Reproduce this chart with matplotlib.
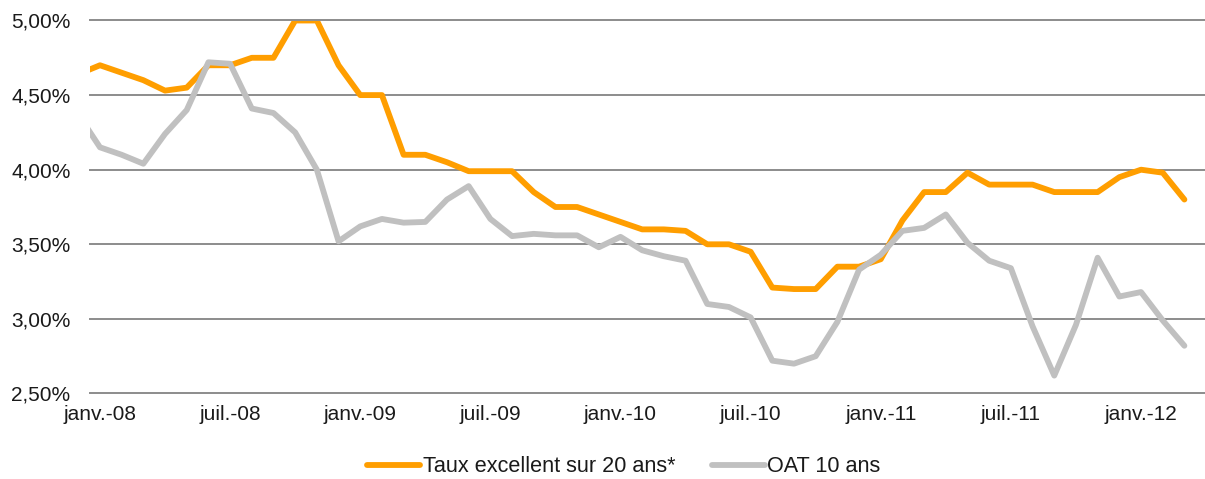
import matplotlib
matplotlib.use("Agg")
import matplotlib.pyplot as plt
from matplotlib.ticker import FuncFormatter

# ---------- data (monthly, déc.-07 .. mars-12) ----------
months = ["déc.-07",
          "janv.-08", "févr.-08", "mars-08", "avr.-08", "mai-08", "juin-08",
          "juil.-08", "août-08", "sept.-08", "oct.-08", "nov.-08", "déc.-08",
          "janv.-09", "févr.-09", "mars-09", "avr.-09", "mai-09", "juin-09",
          "juil.-09", "août-09", "sept.-09", "oct.-09", "nov.-09", "déc.-09",
          "janv.-10", "févr.-10", "mars-10", "avr.-10", "mai-10", "juin-10",
          "juil.-10", "août-10", "sept.-10", "oct.-10", "nov.-10", "déc.-10",
          "janv.-11", "févr.-11", "mars-11", "avr.-11", "mai-11", "juin-11",
          "juil.-11", "août-11", "sept.-11", "oct.-11", "nov.-11", "déc.-11",
          "janv.-12", "févr.-12", "mars-12"]

taux_20 = [4.64,
           4.70, 4.65, 4.60, 4.53, 4.55, 4.70,
           4.70, 4.75, 4.75, 5.00, 5.00, 4.70,
           4.50, 4.50, 4.10, 4.10, 4.05, 3.99,
           3.99, 3.99, 3.85, 3.75, 3.75, 3.70,
           3.65, 3.60, 3.60, 3.59, 3.50, 3.50,
           3.45, 3.21, 3.20, 3.20, 3.35, 3.35,
           3.40, 3.66, 3.85, 3.85, 3.98, 3.90,
           3.90, 3.90, 3.85, 3.85, 3.85, 3.95,
           4.00, 3.98, 3.80]

oat_10 = [4.37,
          4.15, 4.10, 4.04, 4.24, 4.40, 4.72,
          4.71, 4.41, 4.38, 4.25, 4.00, 3.52,
          3.62, 3.67, 3.645, 3.65, 3.80, 3.89,
          3.67, 3.555, 3.57, 3.56, 3.56, 3.48,
          3.55, 3.46, 3.42, 3.39, 3.10, 3.08,
          3.01, 2.72, 2.70, 2.75, 2.98, 3.33,
          3.43, 3.59, 3.61, 3.70, 3.51, 3.39,
          3.34, 2.95, 2.62, 2.96, 3.41, 3.15,
          3.18, 2.99, 2.82]

y_ticks = [2.5, 3.0, 3.5, 4.0, 4.5, 5.0]

# ---------- style ----------
orange = "#FF9E00"
grey_line = "#C0C0C0"
grid_grey = "#8C8C8C"
text_col = "#1a1a1a"

plt.rcParams["font.family"] = ["Liberation Sans", "DejaVu Sans"]

x = list(range(-1, len(months) - 1))  # janv.-08 at 0

fig = plt.figure(figsize=(12.05, 4.79), dpi=100)
ax = fig.add_axes([90 / 1205, 1 - 393.5 / 479, 1 - 90 / 1205, (393.5 - 20.5) / 479])

ax.plot(x, taux_20, color=orange, lw=4.2, solid_joinstyle="round",
        solid_capstyle="round", label="Taux excellent sur 20 ans*", zorder=3)
ax.plot(x, oat_10, color=grey_line, lw=4.2, solid_joinstyle="round",
        solid_capstyle="round", label="OAT 10 ans", zorder=4)

ax.set_xlim(-0.46, 50.95)
ax.set_ylim(2.5, 5.0)
ax.set_yticks(y_ticks)
ax.yaxis.set_major_formatter(FuncFormatter(lambda v, p: f"{v:.2f}".replace(".", ",") + "%"))

tick_pos = [i for i in x if i >= 0 and i % 6 == 0]
ax.set_xticks(tick_pos)
ax.set_xticklabels([months[i + 1] for i in tick_pos])

for yv in y_ticks:
    ax.axhline(yv, color=grid_grey, lw=1.4, zorder=1, clip_on=False)

for s in ax.spines.values():
    s.set_visible(False)
ax.tick_params(length=0, labelsize=15, colors=text_col)
ax.tick_params(axis="y", pad=14)
ax.tick_params(axis="x", pad=8)

leg = fig.legend(loc="center", bbox_to_anchor=(0.5178, 1 - 467 / 479), ncol=2,
                 frameon=False, fontsize=15.6, handlelength=2.45, handletextpad=0.12,
                 columnspacing=1.66)
for t in leg.get_texts():
    t.set_color(text_col)

fig.savefig("out.png", dpi=100)
